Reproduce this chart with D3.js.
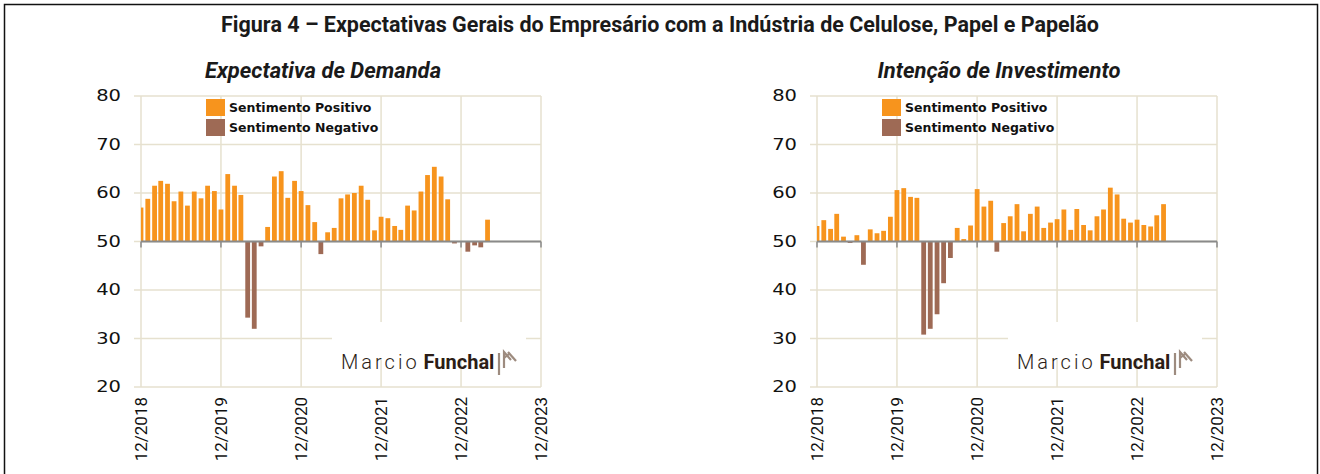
<!DOCTYPE html>
<html lang="pt">
<head>
<meta charset="UTF-8">
<title>Figura 4</title>
<script src="https://cdn.jsdelivr.net/npm/d3@7"></script>
<style>
    body { margin: 0; background: #fff; }
    svg { display: block; }
    .title { font-family: Roboto, sans-serif; font-weight: 700; font-size: 21.5px; fill: #1a1a1a; }
    .subtitle { font-family: Roboto, sans-serif; font-weight: 700; font-style: italic; font-size: 22px; fill: #1a1a1a; }
    .ylab { font-family: "DejaVu Sans", sans-serif; font-size: 15px; fill: #111; }
    .xlab { font-family: Roboto, sans-serif; font-size: 17px; fill: #111; }
    .legend_text { font-family: "DejaVu Sans", sans-serif; font-weight: 700; font-size: 12.5px; fill: #111; }
</style>
</head>
<body>
<svg width="1320" height="474"></svg>
<script>
    // monthly index, 0 = 12/2018
    const startMonth = new Date(2018, 11, 1);
    const tickLabels = ["12/2018", "12/2019", "12/2020", "12/2021", "12/2022", "12/2023"];
    const yTicks = [20, 30, 40, 50, 60, 70, 80];
    const legendLabels = ["Sentimento Positivo", "Sentimento Negativo"];

    const demanda = [57.0, 58.8, 61.5, 62.5, 61.9, 58.3, 60.3, 57.4, 60.3, 58.9,
        61.5, 60.4, 56.6, 63.9, 61.5, 59.6, 34.3, 32.0, 49.0, 53.0,
        63.4, 64.5, 59.0, 62.5, 60.4, 57.5, 54.0, 47.4, 51.9, 52.8,
        58.9, 59.7, 60.0, 61.5, 58.6, 52.3, 55.1, 54.8, 53.2, 52.4,
        57.4, 56.4, 60.3, 63.7, 65.4, 63.4, 58.7, 49.6, 49.9, 47.9,
        49.2, 48.8, 54.5];

    const investimento = [53.2, 54.4, 52.6, 55.7, 51.0, 49.7, 51.3, 45.2, 52.5, 51.7,
        52.2, 55.1, 60.6, 61.0, 59.2, 59.0, 30.8, 32.0, 35.0, 41.4,
        46.6, 52.8, 50.5, 53.3, 60.8, 57.2, 58.4, 47.9, 53.8, 55.2,
        57.7, 52.1, 55.7, 57.2, 52.8, 53.9, 54.6, 56.6, 52.4, 56.7,
        53.4, 52.3, 55.2, 56.6, 61.1, 59.7, 54.7, 53.9, 54.5, 53.4,
        53.1, 55.4, 57.7];

    const colPos = "#f7941d";
    const colNeg = "#9e6a55";
    const gridCol = "#e6e1cf";

    const svg = d3.select("svg");

    // outer frame
    svg.append("rect")
        .attr("x", 4.5).attr("y", 4.5)
        .attr("width", 1313).attr("height", 480)
        .attr("fill", "none").attr("stroke", "#111").attr("stroke-width", 1.5);

    svg.append("text").attr("class", "title")
        .attr("x", 660).attr("y", 32)
        .attr("text-anchor", "middle")
        .text("Figura 4 – Expectativas Gerais do Empresário com a Indústria de Celulose, Papel e Papelão");

    const W = 400, plotTop = 96, plotBottom = 387;

    const y = d3.scaleLinear().domain([20, 80]).range([plotBottom, plotTop]);

    function drawPanel(x0, title, values, id) {
        const g = svg.append("g").attr("transform", `translate(${x0},0)`);

        const x = d3.scaleTime()
            .domain([startMonth, d3.timeMonth.offset(startMonth, 60)])
            .range([0, W]);
        const yearTicks = d3.range(tickLabels.length).map(k => d3.timeMonth.offset(startMonth, 12 * k));

        g.append("text").attr("class", "subtitle")
            .attr("x", W / 2 - 18).attr("y", 78)
            .attr("text-anchor", "middle")
            .text(title);

        // grid
        g.append("g").selectAll("line").data(yTicks).join("line")
            .attr("x1", -7).attr("x2", W)
            .attr("y1", d => y(d)).attr("y2", d => y(d))
            .attr("stroke", gridCol).attr("stroke-width", 1.5);
        g.append("g").selectAll("line").data(yearTicks).join("line")
            .attr("x1", d => x(d)).attr("x2", d => x(d))
            .attr("y1", plotTop).attr("y2", plotBottom)
            .attr("stroke", gridCol).attr("stroke-width", 1.5);

        // y labels
        g.append("g").selectAll("text").data(yTicks).join("text")
            .attr("class", "ylab")
            .attr("transform", d => `translate(-20,${y(d)}) scale(1.3,1)`)
            .attr("dy", "0.36em")
            .attr("text-anchor", "end")
            .text(d => d);

        // watermark box
        const logo = g.append("g");
        logo.append("rect")
            .attr("x", 191).attr("y", 322).attr("width", 194).attr("height", 38)
            .attr("fill", "#fff");

        // bars
        g.append("clipPath").attr("id", "clip" + id)
            .append("rect").attr("x", 0).attr("y", plotTop).attr("width", W).attr("height", plotBottom - plotTop);

        const bw = 4.8;
        g.append("g").attr("clip-path", `url(#clip${id})`)
            .selectAll("rect").data(values).join("rect")
            .attr("x", (d, i) => x(d3.timeMonth.offset(startMonth, i)) - bw / 2)
            .attr("width", bw)
            .attr("y", d => d >= 50 ? y(d) : y(50))
            .attr("height", d => Math.abs(y(d) - y(50)))
            .attr("fill", d => d >= 50 ? colPos : colNeg);

        // baseline at 50
        g.append("line")
            .attr("x1", 0).attr("x2", W)
            .attr("y1", y(50)).attr("y2", y(50))
            .attr("stroke", "#8a8a8a").attr("stroke-width", 2);
        g.append("g").selectAll("line").data(yearTicks).join("line")
            .attr("x1", d => x(d)).attr("x2", d => x(d))
            .attr("y1", y(50)).attr("y2", y(50) + 6)
            .attr("stroke", "#8a8a8a").attr("stroke-width", 1.5);

        // x labels
        g.append("g").selectAll("text").data(yearTicks).join("text")
            .attr("class", "xlab")
            .attr("transform", d => `translate(${x(d)},397) rotate(-90)`)
            .attr("dy", "0.36em")
            .attr("text-anchor", "end")
            .text((d, i) => tickLabels[i]);

        // legend
        const lg = g.append("g").selectAll("g").data(legendLabels).join("g")
            .attr("transform", (d, i) => `translate(65,${99 + i * 20})`);
        lg.append("rect").attr("width", 19).attr("height", 17)
            .attr("fill", (d, i) => i === 0 ? colPos : colNeg);
        lg.append("text").attr("class", "legend_text")
            .attr("x", 23).attr("y", 13)
            .text(d => d);

        // watermark text
        const wt = logo.append("text").attr("x", 200).attr("y", 369)
            .attr("font-family", "Roboto, sans-serif").attr("font-size", 20).attr("fill", "#2b1d16");
        wt.append("tspan").attr("font-weight", 300).attr("letter-spacing", 3).text("Marcio");
        wt.append("tspan").attr("dx", 4).attr("font-weight", 700).text("Funchal");
        const ic = logo.append("g").attr("stroke", "#9d8b7f").attr("stroke-width", 2.2).attr("fill", "none");
        ic.append("path").attr("d", "M358,375 V353");
        ic.append("path").attr("d", "M363,368 V352 L370,360");
        ic.append("path").attr("d", "M363,358 L368,354");
        ic.append("path").attr("d", "M367,352 L375,361");
    }

    drawPanel(141, "Expectativa de Demanda", demanda, "a");
    drawPanel(817, "Intenção de Investimento", investimento, "b");
</script>
</body>
</html>
